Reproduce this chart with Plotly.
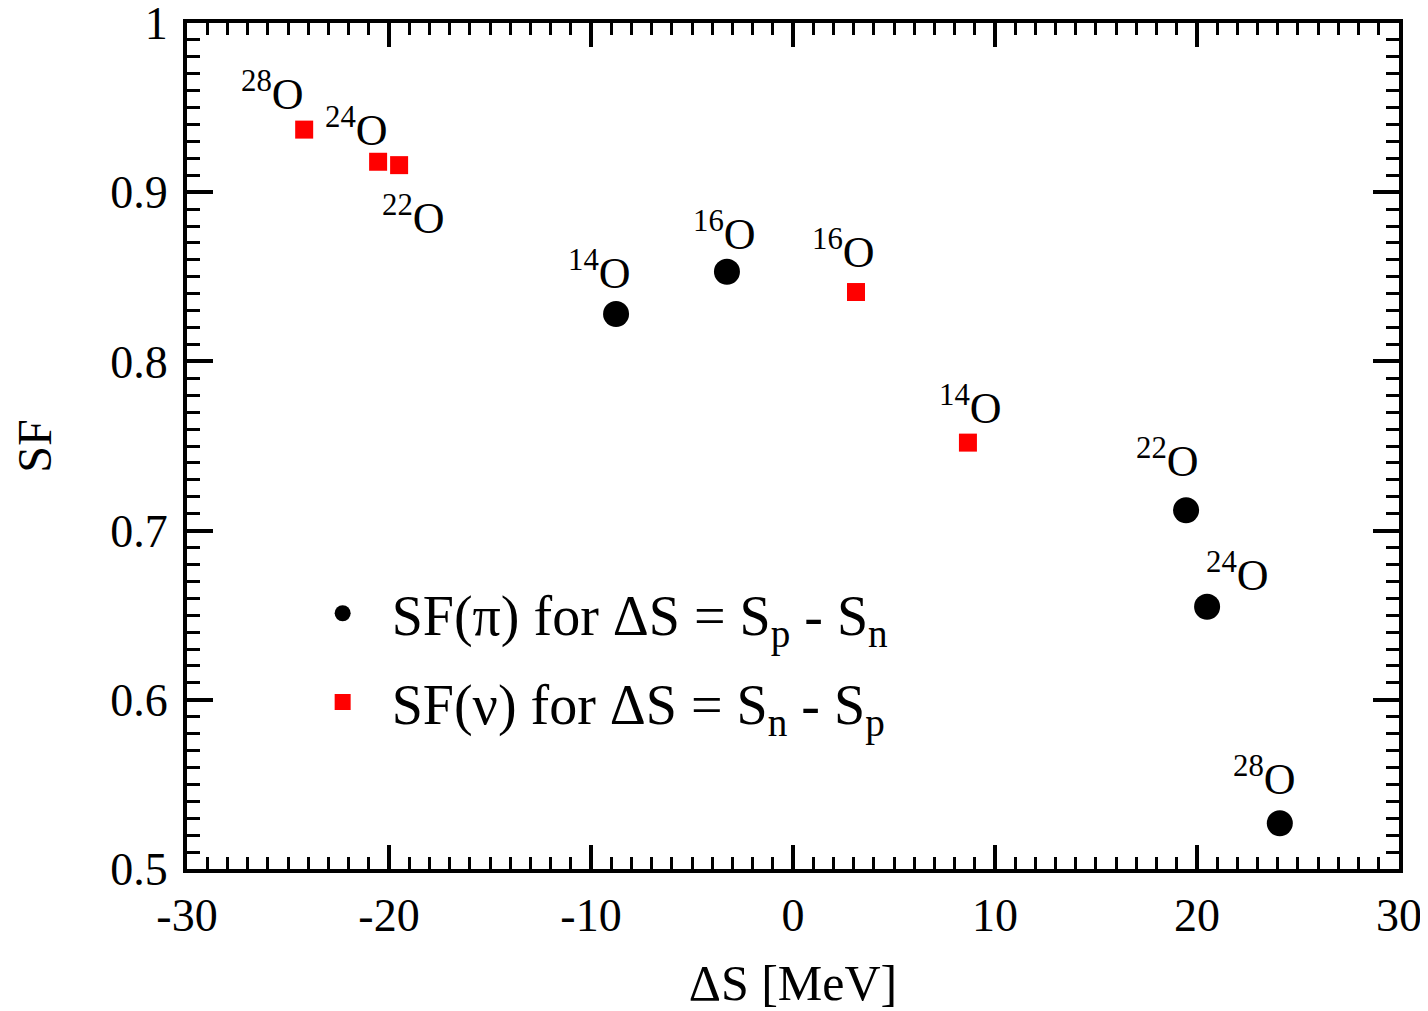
import plotly.graph_objects as go

# ---- data ----
iso_pi = ["14", "16", "22", "24", "28"]
ds_pi = [-8.76, -3.27, 19.46, 20.5, 24.1]
sf_pi = [0.828, 0.853, 0.712, 0.655, 0.527]

iso_nu = ["28", "24", "22", "16", "14"]
ds_nu = [-24.2, -20.54, -19.5, 3.12, 8.66]
sf_nu = [0.937, 0.918, 0.916, 0.841, 0.752]

x_tickvals = [-30, -20, -10, 0, 10, 20, 30]
x_ticktext = ["-30", "-20", "-10", "0", "10", "20", "30"]
y_tickvals = [0.5, 0.6, 0.7, 0.8, 0.9, 1.0]
y_ticktext = ["0.5", "0.6", "0.7", "0.8", "0.9", "1"]

name_pi = "SF(π) for ΔS = S<sub>p</sub> - S<sub>n</sub>"
name_nu = "SF(ν) for ΔS = S<sub>n</sub> - S<sub>p</sub>"

# ---- label offsets (style, pixels) ----
off_pi = [(17, 14), (31, 11), (15, 22), (64, 5), (18, 17)]
off_nu = [(2, 9), (12, 5), (48, -80), (21, 13), (36, 8)]

FONT = "Liberation Serif, Times New Roman, serif"

fig = go.Figure()
fig.add_trace(go.Scatter(
    x=ds_pi, y=sf_pi, mode="markers", name=name_pi, legendgroup="a",
    marker=dict(symbol="circle", size=26, color="black"),
))
fig.add_trace(go.Scatter(
    x=ds_nu, y=sf_nu, mode="markers", name=name_nu, legendgroup="b",
    marker=dict(symbol="square", size=18, color="#ff0000"),
))

annotations = []
for iso, xv, yv, (dx, dy) in list(zip(iso_pi, ds_pi, sf_pi, off_pi)) + list(zip(iso_nu, ds_nu, sf_nu, off_nu)):
    annotations.append(dict(
        x=xv, y=yv, xref="x", yref="y", text=f"<sup>{iso}</sup>O",
        showarrow=False, xanchor="right", yanchor="bottom",
        xshift=dx, yshift=dy, font=dict(family=FONT, size=44, color="black"),
    ))

axis_common = dict(
    showline=True, linewidth=4, linecolor="black", mirror="ticks",
    ticks="inside", tickcolor="black", showgrid=False, zeroline=False,
    automargin=False, ticklabeloverflow="allow",
    tickfont=dict(family=FONT, size=46, color="black"),
)

# page body has an 8px margin; size/margins compensate so the plot area
# lands at x 187..1399, y 23..869 in the window
fig.update_layout(
    width=1420, height=1003,
    margin=dict(l=179, r=29, t=15, b=142),
    paper_bgcolor="white", plot_bgcolor="white",
    font=dict(family=FONT, color="black"),
    annotations=annotations,
    showlegend=True,
    legend=dict(
        x=0.088, y=0.353, xanchor="left", yanchor="top",
        font=dict(family=FONT, size=56, color="black"),
        bgcolor="rgba(0,0,0,0)", borderwidth=0, tracegroupgap=13,
        itemwidth=88,
    ),
    xaxis=dict(
        range=[-30.001, 30.001], tickvals=x_tickvals, ticktext=x_ticktext,
        ticklen=24, tickwidth=4, ticklabelstandoff=3,
        minor=dict(dtick=1, ticklen=12, tickwidth=3, ticks="inside", tickcolor="black"),
        title=dict(text="ΔS [MeV]", font=dict(family=FONT, size=50, color="black"), standoff=32),
        **axis_common,
    ),
    yaxis=dict(
        range=[0.49999, 1.00001], tickvals=y_tickvals, ticktext=y_ticktext,
        ticklen=26, tickwidth=4, ticklabelstandoff=6,
        minor=dict(dtick=0.01, ticklen=13, tickwidth=3, ticks="inside", tickcolor="black"),
        title=dict(text="SF", font=dict(family=FONT, size=48, color="black"), standoff=50),
        **axis_common,
    ),
)

fig.write_html("out.html")
